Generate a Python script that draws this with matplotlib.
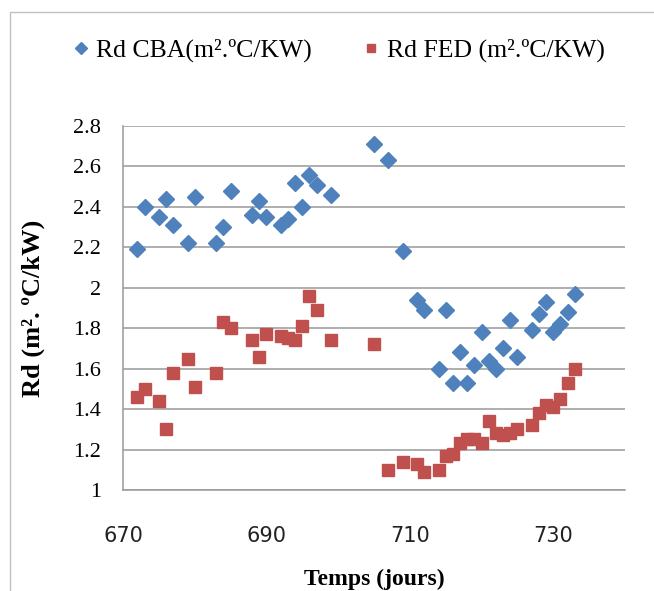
import matplotlib.pyplot as plt
from matplotlib.patches import Rectangle

# days (same days for both series)
jours = [672, 673, 675, 676, 677, 679, 680, 683, 684, 685, 688, 689, 690, 692, 693,
         694, 695, 696, 697, 699, 705, 707, 709, 711, 712, 714, 715, 716, 717, 718,
         719, 720, 721, 722, 723, 724, 725, 727, 728, 729, 730, 731, 732, 733]

rd_cba = [2.19, 2.40, 2.35, 2.44, 2.31, 2.22, 2.45, 2.22, 2.30, 2.48, 2.36, 2.43, 2.35, 2.31, 2.34,
          2.52, 2.40, 2.56, 2.51, 2.46, 2.71, 2.63, 2.18, 1.94, 1.89, 1.60, 1.89, 1.53, 1.68, 1.53,
          1.62, 1.78, 1.64, 1.60, 1.70, 1.84, 1.66, 1.79, 1.87, 1.93, 1.78, 1.82, 1.88, 1.97]

rd_fed = [1.46, 1.50, 1.44, 1.30, 1.58, 1.65, 1.51, 1.58, 1.83, 1.80, 1.74, 1.66, 1.77, 1.76, 1.75,
          1.74, 1.81, 1.96, 1.89, 1.74, 1.72, 1.10, 1.14, 1.13, 1.09, 1.10, 1.17, 1.18, 1.23, 1.25,
          1.25, 1.23, 1.34, 1.28, 1.27, 1.28, 1.30, 1.32, 1.38, 1.42, 1.41, 1.45, 1.53, 1.60]

x_ticks = [670, 690, 710, 730]
y_ticks = [1, 1.2, 1.4, 1.6, 1.8, 2, 2.2, 2.4, 2.6, 2.8]
y_tick_labels = ["1", "1.2", "1.4", "1.6", "1.8", "2", "2.2", "2.4", "2.6", "2.8"]


def main():
    fig = plt.figure(figsize=(6.54, 5.91), dpi=100)
    ax = fig.add_axes([0.1881, 0.1709, 0.7676, 0.6159])

    # chart area border (only top and left visible in the crop)
    fig.patches.append(Rectangle((0.0153, -0.05), 1.2, 1.0297, transform=fig.transFigure,
                                 fill=False, edgecolor="#c0c0c0", linewidth=1.0))

    ax.plot(jours, rd_cba, linestyle="none", marker="D", markersize=8,
            color="#4F81BD", label="Rd CBA(m².ºC/KW)")
    ax.plot(jours, rd_fed, linestyle="none", marker="s", markersize=8.5,
            color="#C0504D", label="Rd FED (m².ºC/KW)")

    ax.set_xlim(670, 740)
    ax.set_ylim(1, 2.8)
    ax.set_xticks(x_ticks)
    ax.set_yticks(y_ticks)
    ax.set_yticklabels(y_tick_labels, fontfamily="Liberation Serif", fontsize=16)
    for lab in ax.get_xticklabels():
        lab.set_fontfamily("DejaVu Sans")
        lab.set_fontsize(15)
        lab.set_color("#222222")
    ax.tick_params(axis="x", length=0, pad=26)
    ax.tick_params(axis="y", length=0, pad=16)

    ax.grid(axis="y", color="#999999", linewidth=1.1)
    ax.set_axisbelow(True)
    for s in ["top", "right"]:
        ax.spines[s].set_visible(False)
    for s in ["left", "bottom"]:
        ax.spines[s].set_color("#999999")
        ax.spines[s].set_linewidth(1.1)

    ax.set_xlabel("Temps (jours)", fontfamily="Liberation Serif", fontweight="bold",
                  fontsize=17, labelpad=16)
    ax.set_ylabel("Rd (m². ºC/kW)", fontfamily="Liberation Serif", fontweight="bold",
                  fontsize=19)
    ax.yaxis.set_label_coords(-0.155, 0.5)

    fig.legend(loc="center", bbox_to_anchor=(0.518, 0.915), ncol=2, frameon=False,
               prop={"family": "Liberation Serif", "size": 18.5}, markerscale=0.75,
               handlelength=0.6, handletextpad=0.3, columnspacing=2.0)

    fig.savefig("out.png", dpi=100)


if __name__ == "__main__":
    main()
